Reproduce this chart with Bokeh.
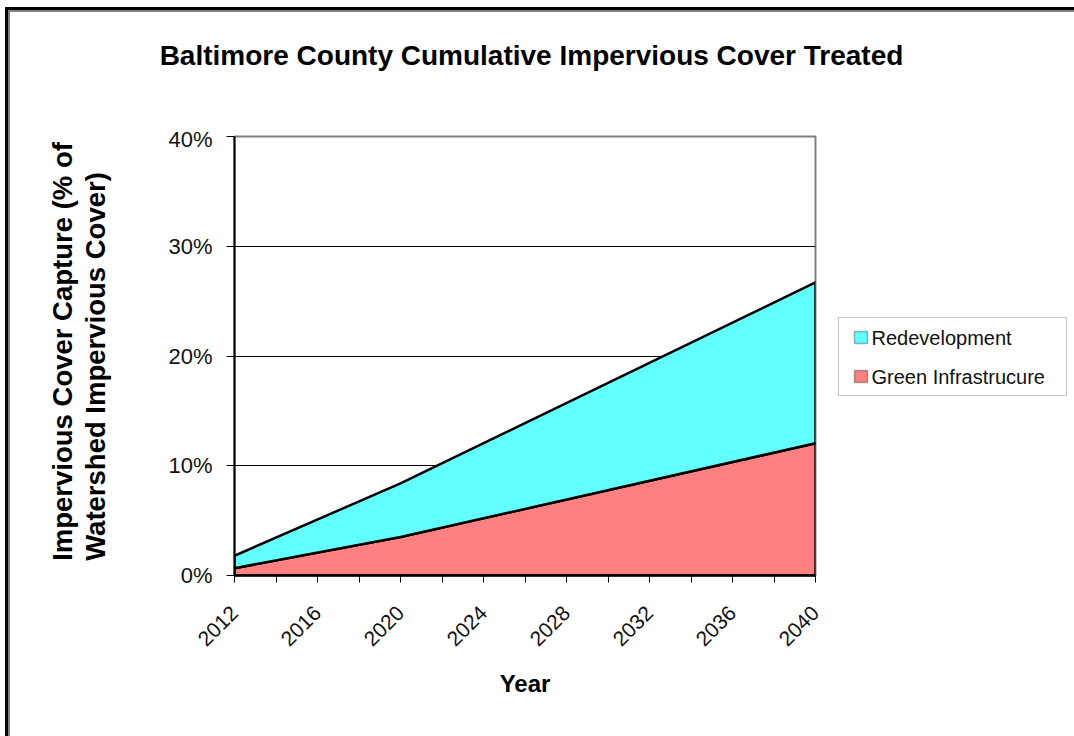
from math import pi

from bokeh.embed import file_html
from bokeh.layouts import column, row
from bokeh.models import (BoxAnnotation, FixedTicker, InlineStyleSheet, Label,
                          NumeralTickFormatter, Range1d)
from bokeh.plotting import figure
from bokeh.resources import INLINE

# Cumulative share of watershed impervious cover treated
years = [2012, 2020, 2040]
green_infrastructure = [0.0067, 0.035, 0.1205]
redevelopment = [0.0113, 0.049, 0.1465]

x_major_ticks = [2012, 2016, 2020, 2024, 2028, 2032, 2036, 2040]
x_minor_ticks = [2014, 2018, 2022, 2026, 2030, 2034, 2038]
y_ticks = [0.0, 0.1, 0.2, 0.3, 0.4]

title_text = "Baltimore County Cumulative Impervious Cover Treated"
y_label_lines = ["Impervious Cover Capture (% of", "Watershed Impervious Cover)"]
x_label_text = "Year"
series_names = ["Redevelopment", "Green Infrastrucure"]

FONT = "Liberation Sans"
CYAN = "#63FFFF"
SALMON = "#FF8080"
series_colors = [CYAN, SALMON]

# double rule along the top and left edges of the page, drawn behind the canvases
frame_css = InlineStyleSheet(css="""
:host {
  background: white;
  box-shadow: inset 5px 7px 0 0 white,
              inset 8px 10px 0 0 black,
              inset 10px 12px 0 0 #808080;
}
""")

# page layout: a title strip on top, then [axis-title strip | chart | legend strip]
TOP_H, BODY_H = 126, 610
LAB_W, CHART_W, LEG_W = 150, 680, 244
BORDER_TOP, BORDER_BOTTOM = 10, 161


def blank_panel(width, height, border_top=0, border_bottom=0):
    f = figure(width=width, height=height, output_backend="svg", toolbar_location=None,
               x_range=Range1d(0, width), y_range=Range1d(0, height - border_top - border_bottom),
               x_axis_location=None, y_axis_location=None,
               min_border_left=0, min_border_right=0,
               min_border_top=border_top, min_border_bottom=border_bottom)
    f.grid.visible = False
    f.outline_line_color = None
    f.background_fill_alpha = 0
    f.border_fill_alpha = 0
    return f


# ---- chart ----
p = figure(width=CHART_W, height=BODY_H, output_backend="svg", toolbar_location=None,
           x_range=Range1d(years[0], years[-1]), y_range=Range1d(0, 0.4),
           min_border_left=84, min_border_right=15,
           min_border_top=BORDER_TOP, min_border_bottom=BORDER_BOTTOM)
p.background_fill_color = "white"
p.border_fill_alpha = 0
p.outline_line_color = "#808080"
p.outline_line_width = 2

top = [g + r for g, r in zip(green_infrastructure, redevelopment)]
xs = years + years[::-1]
p.patch(xs, green_infrastructure + [0.0] * len(years),
        fill_color=SALMON, line_color="black", line_width=2.5, line_join="round")
p.patch(xs, top + green_infrastructure[::-1],
        fill_color=CYAN, line_color="black", line_width=2.5, line_join="round")

p.xgrid.visible = False
p.ygrid.grid_line_color = "black"
p.ygrid.grid_line_width = 1
p.ygrid.level = "underlay"

xa = p.xaxis[0]
xa.ticker = FixedTicker(ticks=x_major_ticks, minor_ticks=x_minor_ticks)
xa.axis_line_color = "black"
xa.axis_line_width = 2.5
xa.major_tick_line_color = "black"
xa.minor_tick_line_color = "black"
xa.major_tick_in = 0
xa.major_tick_out = 7
xa.minor_tick_in = 0
xa.minor_tick_out = 7
xa.major_label_orientation = pi / 4
xa.major_label_text_font = FONT
xa.major_label_text_font_size = "21px"
xa.major_label_text_color = "#111111"
xa.major_label_standoff = 27
xa.axis_label = x_label_text
xa.axis_label_text_font = FONT
xa.axis_label_text_font_size = "24px"
xa.axis_label_text_font_style = "bold"
xa.axis_label_text_color = "black"
xa.axis_label_standoff = 15

ya = p.yaxis[0]
ya.ticker = FixedTicker(ticks=y_ticks, minor_ticks=[])
ya.formatter = NumeralTickFormatter(format="0%")
ya.axis_line_color = "black"
ya.axis_line_width = 2
ya.major_tick_line_color = "black"
ya.major_tick_in = 0
ya.major_tick_out = 8
ya.minor_tick_line_color = None
ya.major_label_text_font = FONT
ya.major_label_text_font_size = "22px"
ya.major_label_text_color = "#111111"
ya.major_label_standoff = 14

# ---- title strip ----
t = blank_panel(1074, TOP_H)
t.add_layout(Label(x=531, y=TOP_H - 55, text=title_text,
                   text_font=FONT, text_font_size="28px", text_font_style="bold",
                   text_align="center", text_baseline="middle", text_color="black"))

# ---- vertical axis title strip (y counts up from the chart's bottom edge) ----
lab = blank_panel(LAB_W, BODY_H, 0, BORDER_BOTTOM)
for line, x in zip(y_label_lines, [62, 95]):
    lab.add_layout(Label(x=x, y=15, text=line, angle=pi / 2,
                         text_font=FONT, text_font_size="27.5px", text_font_style="bold",
                         text_align="left", text_baseline="middle", text_color="black"))

# ---- legend strip (coordinates in pixels up from the chart's bottom edge) ----
q = blank_panel(LEG_W, BODY_H, BORDER_TOP, BORDER_BOTTOM)
q.add_layout(BoxAnnotation(left=8, right=236, bottom=180, top=258,
                           fill_color="white", fill_alpha=1,
                           line_color="#404040", line_width=1))
for i, (name, color) in enumerate(zip(series_names, series_colors)):
    row_y = 238 - 39 * i
    q.add_layout(BoxAnnotation(left=24, right=37, bottom=row_y - 6, top=row_y + 6,
                               fill_color=color, fill_alpha=1,
                               line_color="black", line_width=1.5))
    q.add_layout(Label(x=41, y=row_y, text=name,
                       text_font=FONT, text_font_size="20px",
                       text_align="left", text_baseline="middle", text_color="#111111"))

layout = column(t, row(lab, p, q))
layout.stylesheets = [frame_css]

open("out.html", "w").write(file_html(layout, INLINE))
